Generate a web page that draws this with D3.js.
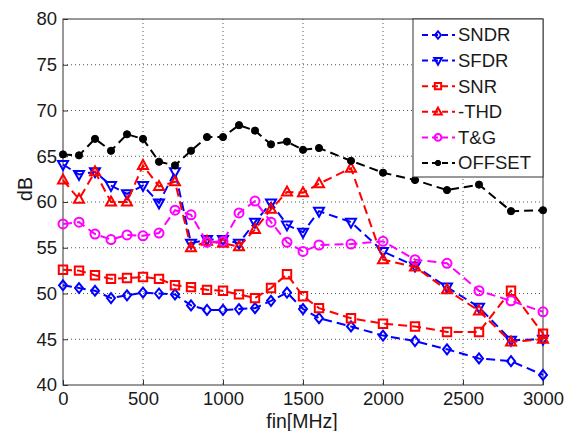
<!DOCTYPE html>
<html>
<head>
<meta charset="utf-8">
<script src="https://cdn.jsdelivr.net/npm/d3@7"></script>
<style>
  html, body { margin: 0; padding: 0; background: #fff; }
  svg { display: block; font-family: "Liberation Sans", Arial, sans-serif; }
</style>
</head>
<body>
<svg id="chart" width="568" height="431"></svg>
<script>
// Input frequency (MHz)
const freq = [0, 100, 200, 300, 400, 500, 600, 700, 800, 900, 1000, 1100, 1200, 1300, 1400, 1500, 1600, 1800, 2000, 2200, 2400, 2600, 2800, 3000];

// Measured figures (dB)
const sndr   = [50.9, 50.6, 50.3, 49.5, 49.8, 50.1, 50.0, 49.9, 48.7, 48.2, 48.2, 48.3, 48.4, 49.2, 50.1, 48.3, 47.3, 46.4, 45.4, 44.8, 43.9, 42.9, 42.6, 41.1];
const sfdr   = [64.1, 63.0, 63.3, 61.8, 60.9, 61.8, 59.9, 63.3, 55.5, 55.9, 55.9, 55.5, 57.8, 59.9, 57.5, 56.7, 59.0, 57.8, 54.6, 53.0, 50.7, 48.5, 44.9, 45.0];
const snr    = [52.6, 52.5, 52.0, 51.6, 51.7, 51.8, 51.6, 50.9, 50.7, 50.4, 50.3, 49.9, 49.5, 50.6, 52.1, 49.7, 48.4, 47.3, 46.7, 46.4, 45.8, 45.8, 50.3, 45.6];
const thd    = [62.4, 60.3, 63.3, 60.0, 60.0, 64.0, 61.7, 62.2, 55.0, 55.7, 55.5, 55.1, 57.0, 59.2, 61.1, 61.0, 62.0, 63.7, 53.7, 52.9, 50.4, 48.1, 44.7, 45.0];
const tg     = [57.6, 57.8, 56.5, 55.9, 56.4, 56.3, 56.6, 59.1, 58.6, 55.6, 55.7, 58.8, 60.1, 57.8, 55.6, 54.6, 55.3, 55.4, 55.7, 53.7, 53.3, 50.3, 49.2, 48.0];
const offset = [65.2, 65.1, 66.9, 65.6, 67.4, 66.9, 64.4, 64.0, 65.6, 67.1, 67.1, 68.4, 67.8, 66.3, 66.6, 65.7, 65.9, 64.5, 63.2, 62.4, 61.3, 61.9, 59.0, 59.1];

const seriesNames = ["SNDR", "SFDR", "SNR", "-THD", "T&G", "OFFSET"];
const xTicks = [0, 500, 1000, 1500, 2000, 2500, 3000];
const yTicks = [40, 45, 50, 55, 60, 65, 70, 75, 80];

const series = [
  { name: seriesNames[0], values: sndr,   color: "#0000ff", marker: "diamond" },
  { name: seriesNames[1], values: sfdr,   color: "#0000ff", marker: "triDown" },
  { name: seriesNames[2], values: snr,    color: "#ff0000", marker: "square" },
  { name: seriesNames[3], values: thd,    color: "#ff0000", marker: "triUp" },
  { name: seriesNames[4], values: tg,     color: "#ff00ff", marker: "circle" },
  { name: seriesNames[5], values: offset, color: "#000000", marker: "dot" }
];

const W = 568, H = 431;
const FS = 18.5;
const margin = { top: 19, right: 25, bottom: 46, left: 63 };
const iw = W - margin.left - margin.right;
const ih = H - margin.top - margin.bottom;

const svg = d3.select("#chart");
const g = svg.append("g").attr("transform", `translate(${margin.left},${margin.top})`);

const x = d3.scaleLinear().domain([0, 3000]).range([0, iw]);
const y = d3.scaleLinear().domain([40, 80]).range([ih, 0]);

// dotted grid
g.append("g").selectAll("line").data(xTicks.slice(1, -1)).join("line")
  .attr("x1", d => x(d)).attr("x2", d => x(d)).attr("y1", 0).attr("y2", ih)
  .attr("stroke", "#555").attr("stroke-width", 1).attr("stroke-dasharray", "1,3");
g.append("g").selectAll("line").data(yTicks.slice(1, -1)).join("line")
  .attr("x1", 0).attr("x2", iw).attr("y1", d => y(d)).attr("y2", d => y(d))
  .attr("stroke", "#555").attr("stroke-width", 1).attr("stroke-dasharray", "1,3");

// axes
const xAxis = d3.axisBottom(x).tickValues(xTicks).tickSize(-5).tickPadding(7).tickFormat(d3.format("d"));
const yAxis = d3.axisLeft(y).tickValues(yTicks).tickSize(-5).tickPadding(6).tickFormat(d3.format("d"));
const gx = g.append("g").attr("transform", `translate(0,${ih})`).call(xAxis);
const gy = g.append("g").call(yAxis);
[gx, gy].forEach(a => {
  a.select(".domain").remove();
  a.selectAll(".tick line").attr("stroke", "#333");
  a.selectAll(".tick text").attr("fill", "#1a1a1a").attr("font-size", FS);
});

// box
g.append("rect").attr("x", 0).attr("y", 0).attr("width", iw).attr("height", ih)
  .attr("fill", "none").attr("stroke", "#333").attr("stroke-width", 1);

// marker shapes
function drawMarker(sel, type, color, s) {
  s = s || 1;
  if (type === "dot") {
    sel.append("circle").attr("r", 3.6 * s).attr("fill", color).attr("stroke", color).attr("stroke-width", 1);
    return;
  }
  let path;
  if (type === "diamond") path = `M0,${-5*s}L${4*s},0L0,${5*s}L${-4*s},0Z`;
  else if (type === "square") path = `M${-4.2*s},${-4.2*s}H${4.2*s}V${4.2*s}H${-4.2*s}Z`;
  else if (type === "triUp") path = `M0,${-5.5*s}L${5*s},${3.5*s}L${-5*s},${3.5*s}Z`;
  else if (type === "triDown") path = `M0,${5.5*s}L${5*s},${-3.5*s}L${-5*s},${-3.5*s}Z`;
  if (path) {
    sel.append("path").attr("d", path).attr("fill", "none").attr("stroke", color).attr("stroke-width", 2);
  } else {
    sel.append("circle").attr("r", 4.5 * s).attr("fill", "none").attr("stroke", color).attr("stroke-width", 2);
  }
}

const line = d3.line().x(d => x(d[0])).y(d => y(d[1]));

series.forEach(s => {
  const pts = freq.map((f, i) => [f, s.values[i]]);
  const sg = g.append("g");
  sg.append("path").datum(pts).attr("d", line)
    .attr("fill", "none").attr("stroke", s.color).attr("stroke-width", 2)
    .attr("stroke-dasharray", "9,5");
  pts.forEach(p => {
    const m = sg.append("g").attr("transform", `translate(${x(p[0])},${y(p[1])})`);
    drawMarker(m, s.marker, s.color);
  });
});

// axis titles
svg.append("text").attr("x", margin.left + iw / 2 - 1).attr("y", 427.5)
  .attr("text-anchor", "middle").attr("font-size", 19.5).attr("fill", "#1a1a1a").text("fin[MHz]");
svg.append("text").attr("transform", `translate(32,${margin.top + ih / 2 - 13}) rotate(-90)`)
  .attr("text-anchor", "middle").attr("font-size", 19.5).attr("fill", "#1a1a1a").text("dB");

// legend
const lg = g.append("g").attr("transform", `translate(${iw - 130},0)`);
lg.append("rect").attr("x", 0).attr("y", 0).attr("width", 130).attr("height", 158)
  .attr("fill", "#fff").attr("stroke", "#333").attr("stroke-width", 1);
series.forEach((s, i) => {
  const cy = 16 + i * 25.6;
  const row = lg.append("g").attr("transform", `translate(0,${cy})`);
  row.append("line").attr("x1", 9).attr("x2", 42).attr("y1", 0).attr("y2", 0)
    .attr("stroke", s.color).attr("stroke-width", 2).attr("stroke-dasharray", "6,4");
  const m = row.append("g").attr("transform", "translate(25,0)");
  drawMarker(m, s.marker, s.color, 0.75);
  row.append("text").attr("x", 45).attr("y", 0).attr("dy", "0.35em")
    .attr("font-size", FS).attr("fill", "#1a1a1a").text(s.name);
});
</script>
</body>
</html>
